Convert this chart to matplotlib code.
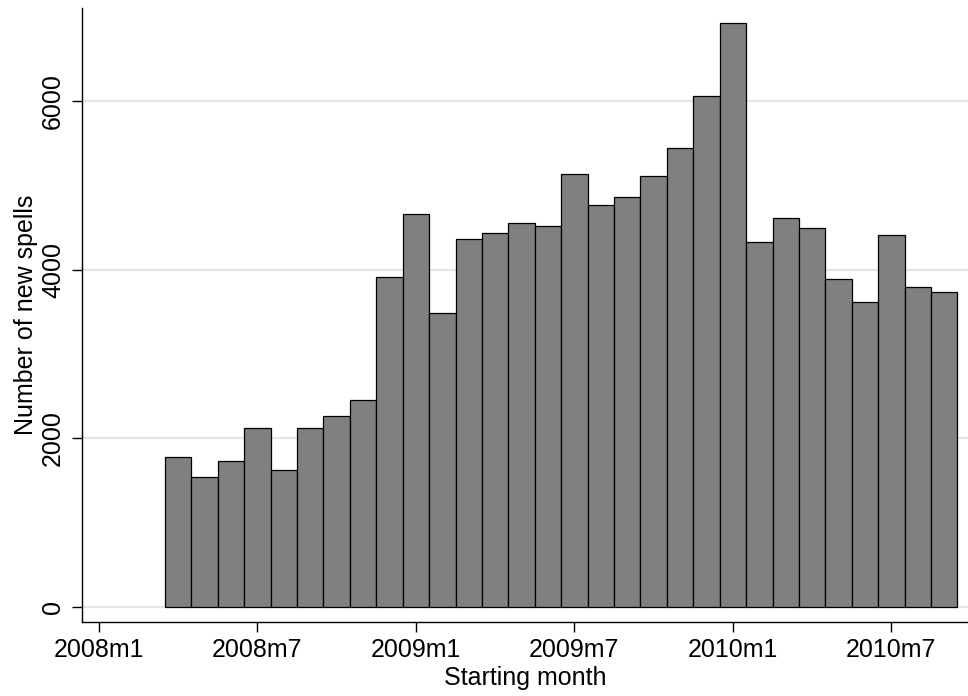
import matplotlib
matplotlib.use("Agg")
import matplotlib.pyplot as plt
import numpy as np

# Months since 2008m1 (0 = 2008m1) for each bar: 2008m4 .. 2010m9
start_months = list(range(3, 33))
new_spells = [1775, 1542, 1732, 2123, 1620, 2119, 2266, 2455, 3909, 4662,
              3485, 4368, 4436, 4555, 4515, 5137, 4772, 4864, 5113, 5442,
              6060, 6923, 4329, 4618, 4499, 3889, 3620, 4416, 3794, 3735]
xtick_pos = [0, 6, 12, 18, 24, 30]
xtick_labels = ["2008m1", "2008m7", "2009m1", "2009m7", "2010m1", "2010m7"]
ytick_vals = [0, 2000, 4000, 6000]

plt.rcParams['font.family'] = ['Liberation Sans', 'DejaVu Sans']

fig = plt.figure(figsize=(9.68, 6.96), dpi=100)
ax = fig.add_axes([82/968, (696-622)/696, 1 - 82/968, (622-8)/696])

ax.bar(start_months, new_spells, width=1.0, color='#808080',
       edgecolor='black', linewidth=0.9, zorder=3)

ax.set_xlim(-0.64, 32.9)
ax.set_ylim(-178, 7106)

ax.set_yticks(ytick_vals)
ax.set_yticklabels([str(v) for v in ytick_vals], rotation=90, va='center')
ax.set_xticks(xtick_pos)
ax.set_xticklabels(xtick_labels)
ax.tick_params(axis='both', direction='out', length=7.2, width=1.0,
               labelsize=18, colors='black')
ax.tick_params(axis='x', pad=4)
ax.tick_params(axis='y', pad=5)

ax.grid(axis='y', color='#e6e6e6', linewidth=1.6, zorder=0)
ax.set_axisbelow(True)

for side in ['top', 'right']:
    ax.spines[side].set_visible(False)
for side in ['left', 'bottom']:
    ax.spines[side].set_linewidth(1.0)
    ax.spines[side].set_color('black')

ax.set_xlabel("Starting month", fontsize=18, labelpad=3)
ax.set_ylabel("Number of new spells", fontsize=18, labelpad=2)

fig.savefig("out.png", dpi=100)
